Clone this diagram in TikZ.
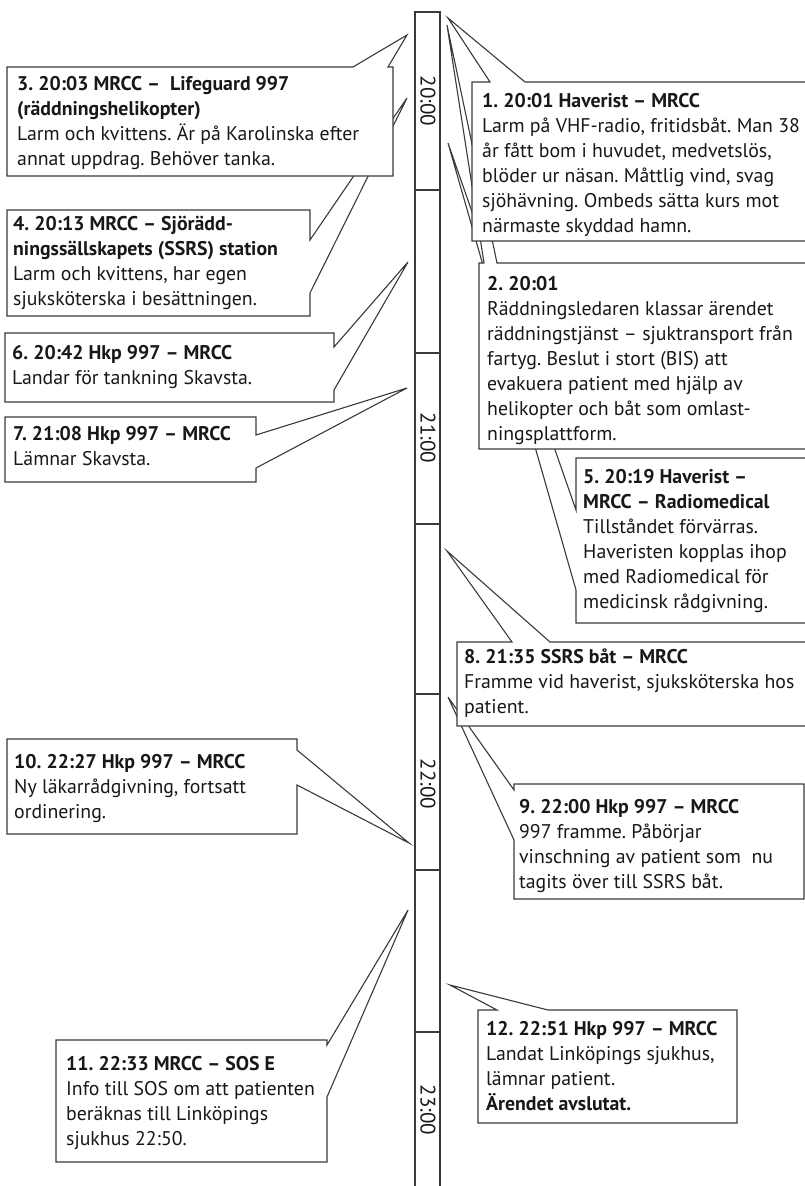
\documentclass[tikz,border=0pt]{standalone}
\usepackage{fontspec}
\setmainfont{PT Sans}
\frenchspacing
\definecolor{boxgray}{HTML}{3A3A3A}
\definecolor{textgray}{HTML}{1A1718}
\tikzset{
  box/.style={draw=boxgray, line width=1.1pt, fill=white, line join=miter},
  txt/.style={anchor=north west, inner sep=0pt, align=left, font=\fontsize{19.8}{25}\selectfont, text=textgray},
  bar/.style={draw=boxgray, line width=1.2pt},
  hour/.style={rotate=-90, font=\fontsize{21}{21}\selectfont, inner sep=0pt, text=textgray}
}
\newcommand{\st}{\rule{0pt}{15pt}}
\begin{document}
\begin{tikzpicture}[x=1pt,y=-1pt]
\useasboundingbox (0,0) rectangle (805,1186);
\clip (0,0) rectangle (805,1186);
% timeline bar
\draw[bar] (415,1200) -- (415,12) -- (440,12) -- (440,1200);
\foreach \yy in {190,353,524,694,870,1032} {\draw[bar] (415,\yy) -- (440,\yy);}
\node[hour] (h20) at (428,101) {20:00};
\node[hour] (h21) at (428,438) {21:00};
\node[hour] (h22) at (428,784) {22:00};
\node[hour] (h23) at (428,1110) {23:00};
% box 5
\draw[box] (576,458) -- (815,458) -- (815,623) -- (576,623) -- (576,590) -- (448,143) -- (576,510) -- cycle;
\node[txt] (t5) at (583,468) {\st\textbf{5. 20:19 Haverist –}\\\textbf{MRCC – Radiomedical}\\Tillståndet förvärras.\\Haveristen kopplas ihop\\med Radiomedical för\\medicinsk rådgivning.};
% box 2
\draw[box] (479,263) -- (484,263) -- (447,25) -- (497,263) -- (815,263) -- (815,449) -- (479,449) -- cycle;
\node[txt] (t2) at (487,275) {\st\textbf{2. 20:01}\\Räddningsledaren klassar ärendet\\räddningstjänst – sjuktransport från\\fartyg. Beslut i stort (BIS) att\\evakuera patient med hjälp av\\helikopter och båt som omlast-\\ningsplattform.};
% box 1
\draw[box] (472,82) -- (490,82) -- (448,18) -- (525,82) -- (815,82) -- (815,241) -- (472,241) -- cycle;
\node[txt] (t1) at (482,92) {\st\textbf{1. 20:01 Haverist – MRCC}\\Larm på VHF-radio, fritidsbåt. Man 38\\år fått bom i huvudet, medvetslös,\\blöder ur näsan. Måttlig vind, svag\\sjöhävning. Ombeds sätta kurs mot\\närmaste skyddad hamn.};
% box 4
\draw[box] (7,210) -- (310,210) -- (310,240) -- (407,98) -- (310,293) -- (310,316) -- (7,316) -- cycle;
\node[txt] (t4) at (13,215) {\st\textbf{4. 20:13 MRCC – Sjörädd-}\\\textbf{ningssällskapets (SSRS) station}\\Larm och kvittens, har egen\\sjuksköterska i besättningen.};
% box 3
\draw[box] (7,67) -- (353,67) -- (407,35) -- (388,67) -- (393,67) -- (393,176) -- (7,176) -- cycle;
\node[txt] (t3) at (17,75) {\st\textbf{3. 20:03 MRCC –\ \ Lifeguard 997}\\\textbf{(räddningshelikopter)}\\Larm och kvittens. Är på Karolinska efter\\annat uppdrag. Behöver tanka.};
% box 6
\draw[box] (5,333) -- (334,333) -- (334,347) -- (408,262) -- (334,390) -- (334,402) -- (5,402) -- cycle;
\node[txt] (t6) at (12,344) {\st\textbf{6. 20:42 Hkp 997 – MRCC}\\Landar för tankning Skavsta.};
% box 7
\draw[box] (5,417) -- (256,417) -- (256,435) -- (407,388) -- (256,468) -- (256,482) -- (5,482) -- cycle;
\node[txt] (t7) at (13,425) {\st\textbf{7. 21:08 Hkp 997 – MRCC}\\Lämnar Skavsta.};
% box 9
\draw[box] (514,784) -- (804,784) -- (804,899) -- (514,899) -- (514,840) -- (448,697) -- (514,790) -- cycle;
\node[txt] (t9) at (519,798) {\st\textbf{9. 22:00 Hkp 997 – MRCC}\\997 framme. Påbörjar\\vinschning av patient som\ \ nu\\tagits över till SSRS båt.};
% box 8
\draw[box] (457,642) -- (512,642) -- (447,551) -- (550,642) -- (815,642) -- (815,726) -- (457,726) -- cycle;
\node[txt] (t8) at (464,648) {\st\textbf{8. 21:35 SSRS båt – MRCC}\\Framme vid haverist, sjuksköterska hos\\patient.};
% box 10
\draw[box] (7,739) -- (297,739) -- (297,750) -- (409,843) -- (297,785) -- (297,834) -- (7,834) -- cycle;
\node[txt] (t10) at (14,753) {\st\textbf{10. 22:27 Hkp 997 – MRCC}\\Ny läkarrådgivning, fortsatt\\ordinering.};
% box 11
\draw[box] (56,1040) -- (327,1040) -- (327,1045) -- (408,910) -- (327,1097) -- (327,1162) -- (56,1162) -- cycle;
\node[txt] (t11) at (66,1055) {\st\textbf{11. 22:33 MRCC – SOS E}\\Info till SOS om att patienten\\beräknas till Linköpings\\sjukhus 22:50.};
% box 12
\draw[box] (478,1010) -- (497,1010) -- (450,985) -- (548,1010) -- (737,1010) -- (737,1123) -- (478,1123) -- cycle;
\node[txt] (t12) at (486,1020) {\st\textbf{12. 22:51 Hkp 997 – MRCC}\\Landat Linköpings sjukhus,\\lämnar patient.\\\textbf{Ärendet avslutat.}};
\end{tikzpicture}
\end{document}
